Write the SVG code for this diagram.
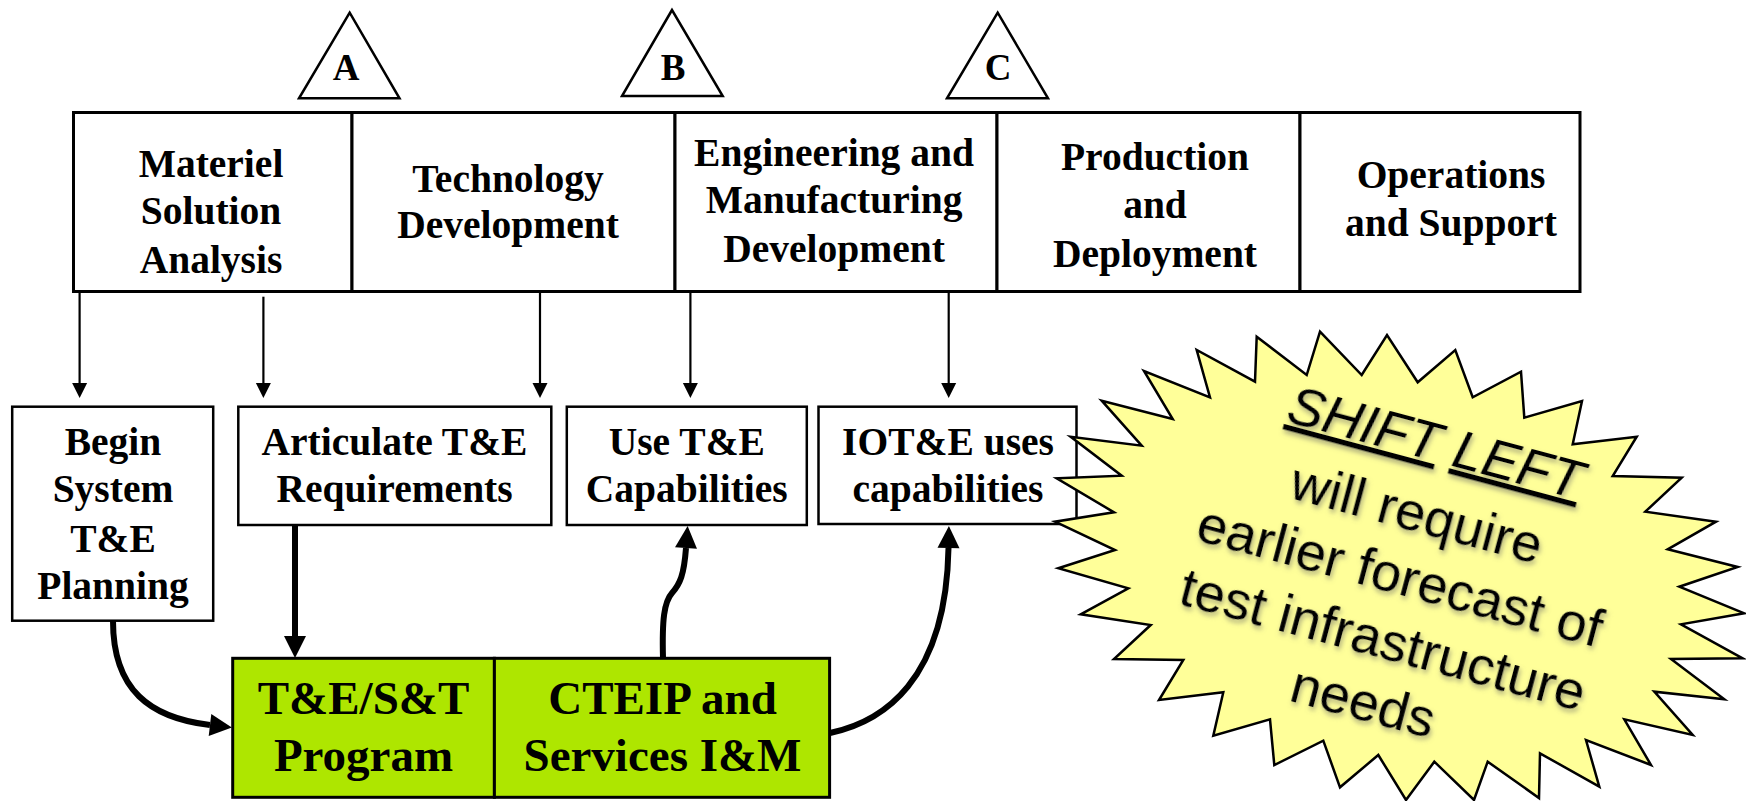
<svg xmlns="http://www.w3.org/2000/svg" width="1746" height="801" viewBox="0 0 1746 801">
<style>
.box{fill:#fff;stroke:#000;stroke-width:3}
.sbox{fill:#fff;stroke:#000;stroke-width:2.5}
.gbox{fill:#aee600;stroke:#000;stroke-width:3}
.tri{fill:#fff;stroke:#000;stroke-width:2.5}
.t{font-family:"Liberation Serif","Times New Roman",serif;font-weight:bold;font-size:39.5px;text-anchor:middle;fill:#000}
.tl{font-family:"Liberation Serif","Times New Roman",serif;font-weight:bold;font-size:37px;text-anchor:middle;fill:#000}
.tg{font-family:"Liberation Serif","Times New Roman",serif;font-weight:bold;font-size:47px;text-anchor:middle;fill:#000}
.thin{fill:none;stroke:#000;stroke-width:2.2;marker-end:url(#ah)}
.thick{fill:none;stroke:#000;stroke-width:6;marker-end:url(#ahb)}
.st{font-family:"Liberation Sans",Arial,sans-serif;font-size:54px;text-anchor:middle;fill:#000}
</style>
<defs>
<marker id="ah" markerUnits="userSpaceOnUse" markerWidth="15" markerHeight="15" refX="0" refY="7.5" orient="auto" overflow="visible">
<path d="M0,0 L15,7.5 L0,15 z" fill="#000"/>
</marker>
<marker id="ahb" markerUnits="userSpaceOnUse" markerWidth="22" markerHeight="22" refX="0" refY="11" orient="auto" overflow="visible">
<path d="M0,0 L22,11 L0,22 z" fill="#000"/>
</marker>
<filter id="sh" x="-20%" y="-20%" width="140%" height="140%">
<feDropShadow dx="2" dy="3" stdDeviation="2.5" flood-color="#666" flood-opacity="0.55"/>
</filter>
</defs>

<g id="milestone-A"><polygon class="tri" points="349.7,12.7 299,98.3 399.5,98.3"/><text class="tl" x="346" y="80">A</text></g>
<g id="milestone-B"><polygon class="tri" points="672,10 622,96 722.7,96"/><text class="tl" x="673" y="80">B</text></g>
<g id="milestone-C"><polygon class="tri" points="997.7,12.7 947,98.3 1048,98.3"/><text class="tl" x="998" y="80">C</text></g>

<g id="phase-msa"><rect class="box" x="73.5" y="112.5" width="278.5" height="179"/>
<text class="t" x="211" y="176.7">Materiel</text><text class="t" x="211" y="224">Solution</text><text class="t" x="211" y="272.7">Analysis</text></g>
<g id="phase-td"><rect class="box" x="352" y="112.5" width="323" height="179"/>
<text class="t" x="508" y="191.7">Technology</text><text class="t" x="508" y="238.3">Development</text></g>
<g id="phase-emd"><rect class="box" x="675" y="112.5" width="322" height="179"/>
<text class="t" x="834" y="165.7">Engineering and</text><text class="t" x="834" y="213">Manufacturing</text><text class="t" x="834" y="261.7">Development</text></g>
<g id="phase-pd"><rect class="box" x="997" y="112.5" width="303" height="179"/>
<text class="t" x="1155" y="170">Production</text><text class="t" x="1155" y="218.3">and</text><text class="t" x="1155" y="266.7">Deployment</text></g>
<g id="phase-os"><rect class="box" x="1300" y="112.5" width="280" height="179"/>
<text class="t" x="1451" y="188.3">Operations</text><text class="t" x="1451" y="236">and Support</text></g>

<g id="begin-planning"><rect class="sbox" x="12.2" y="406.7" width="201" height="214"/>
<text class="t" x="113" y="455">Begin</text><text class="t" x="113" y="501.7">System</text><text class="t" x="113" y="551.7">T&amp;E</text><text class="t" x="113" y="599">Planning</text></g>
<g id="articulate"><rect class="sbox" x="238.3" y="406.7" width="313" height="118.3"/>
<text class="t" x="394.5" y="455">Articulate T&amp;E</text><text class="t" x="394.5" y="501.7">Requirements</text></g>
<g id="use-te"><rect class="sbox" x="566.8" y="406.7" width="240" height="118.3"/>
<text class="t" x="686.8" y="455">Use T&amp;E</text><text class="t" x="686.8" y="501.7">Capabilities</text></g>
<g id="iote"><rect class="sbox" x="818.5" y="406.7" width="258" height="117.3"/>
<text class="t" x="948" y="455">IOT&amp;E uses</text><text class="t" x="948" y="501.7">capabilities</text></g>

<g id="te-st-program"><rect class="gbox" x="232.7" y="658.3" width="261.7" height="139"/>
<text class="tg" x="363.5" y="714.3">T&amp;E/S&amp;T</text><text class="tg" x="363.5" y="771">Program</text></g>
<g id="cteip"><rect class="gbox" x="494.4" y="658.3" width="335.2" height="139"/>
<text class="tg" x="662.5" y="714.3">CTEIP and</text><text class="tg" x="662.5" y="771">Services I&amp;M</text></g>

<g id="connectors">
<path class="thin" d="M79.6,292 V383"/>
<path class="thin" d="M263.4,296.7 V383"/>
<path class="thin" d="M540,292 V383"/>
<path class="thin" d="M690.4,292 V383"/>
<path class="thin" d="M948.7,292 V383"/>
<path class="thick" d="M295,525 V636"/>
<path class="thick" d="M113,621 C113,690 150,718 210,725"/>
<path class="thick" d="M663,658 C662,620 664,602 672,593 C680,584 684,575 686,548"/>
<path class="thick" d="M830,733 C882,722 946,682 948.5,548"/>
</g>

<g id="shift-left">
<polygon fill="#ffff99" stroke="#000" stroke-width="2.5" stroke-linejoin="miter" points="1320,331.7 1361.7,375 1387,335 1417.7,382.3 1455.3,350 1472.7,397.3 1521,371.7 1524.3,417.7 1582,401 1572.7,444.3 1636.7,436.7 1612.7,476 1681.7,477.7 1645.3,511.7 1716,521.7 1667.7,549.3 1737.7,567 1679.3,586.7 1744.3,613.3 1681,624.3 1742.7,658.3 1671,659 1724.3,699.3 1654.3,691.7 1692.7,735 1624.3,719.3 1651,765 1586,740 1599.3,786.7 1540,753.3 1539,798 1487.7,761.7 1474,800 1434.3,761.7 1406,800 1378.3,755 1340,787.3 1323.3,740.7 1274.3,765 1270,719.3 1213.3,735.7 1223.3,692.3 1159,700 1183.3,660 1114,659 1150.7,625 1080.7,614.3 1128.3,588.3 1058.3,568.3 1115,550 1055,521.7 1114,512.3 1056.7,478.3 1121.7,475.7 1070.7,436.7 1141.7,445.7 1101.7,400.7 1172.7,419 1144,371 1210,397.3 1196.7,350 1255,381.7 1256.7,336.7 1306.7,375"/>
<g transform="translate(1399,580) rotate(15)" filter="url(#sh)">
<text class="st" x="0" y="-124" font-style="italic"><tspan text-decoration="underline">SHIFT</tspan> <tspan text-decoration="underline">LEFT</tspan></text>
<text class="st" x="0" y="-51">will require</text>
<text class="st" x="0" y="14">earlier forecast of</text>
<text class="st" x="0" y="79.5">test infrastructure</text>
<text class="st" x="-3" y="144.5">needs</text>
</g>
</g>
</svg>
